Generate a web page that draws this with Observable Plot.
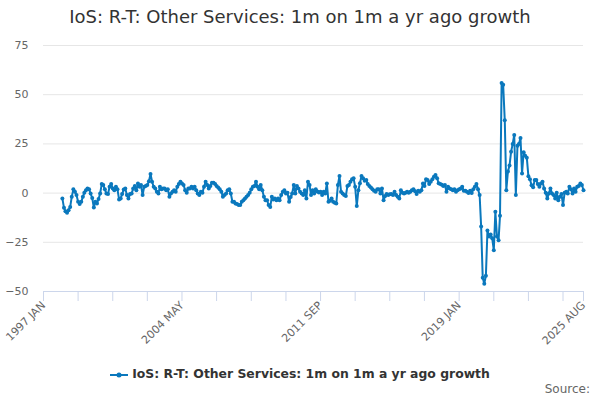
<!DOCTYPE html>
<html><head><meta charset="utf-8">
<script src="https://cdn.jsdelivr.net/npm/d3@7"></script>
<script src="https://cdn.jsdelivr.net/npm/@observablehq/plot@0.6"></script>
<style>
body{margin:0;font-family:"DejaVu Sans",sans-serif;background:#fff;}
#wrap{position:relative;width:600px;height:400px;overflow:hidden}
#title{position:absolute;top:6px;left:0;width:600px;text-align:center;font-size:18px;color:#333}
#chart{position:absolute;top:36px;left:0}
#legend{position:absolute;top:366px;left:0;width:600px;text-align:center;font-size:12.4px;font-weight:bold;color:#333}
#legend svg{vertical-align:middle;margin-right:4px}
#source{position:absolute;top:382px;right:10px;font-size:12px;color:#666}
</style>
</head><body>
<div id="wrap">
<div id="title"></div>
<div id="chart"></div>
<div id="legend"></div>
<div id="source"></div>
</div>
<script>
const titleText = "IoS: R-T: Other Services: 1m on 1m a yr ago growth";
const seriesName = "IoS: R-T: Other Services: 1m on 1m a yr ago growth";
const sourceText = "Source:";
const lineColor = "#0a78bd";

// Monthly values, Jan 1998 – Aug 2025
const y1998 = [-2.7, -7.5, -9.2, -10, -8.7, -7, -1.9, 1.9, 0.7, -1, -4.4, -5.6];
const y1999 = [-4.4, -1.9, 0.2, 1.5, 2.4, 1.9, -0.2, -2.5, -7.3, -4.4, -5.3, -3];
const y2000 = [-0.2, 4.6, 4.1, 1.9, -0.2, -0.5, 3.2, 4.6, 2.4, 1.5, 3.2, 1.9];
const y2001 = [-3.2, -2.7, -0.5, 1.8, 2.4, -1, -2.7, -0.5, -0.2, 2.4, 3.6, 1.5];
const y2002 = [4.9, 3.2, 4.1, -1, 3.2, 3.6, 4.1, 6, 9.7, 5.8, 3.2, 2.4];
const y2003 = [0.7, -0.2, 3.2, 1.9, 2.4, 2.4, 1.5, 1.9, -1.9, -0.2, 0.7, 1.5];
const y2004 = [0.7, 3.2, 4.6, 5.8, 4.9, 4.1, 1.5, 0.2, 2.4, 2.4, 3.2, 2.4];
const y2005 = [3.2, 1.5, -0.2, -1, 0.7, 0.2, 3.2, 5.8, 4.1, 2.4, 3.6, 5.3];
const y2006 = [5.3, 4.6, 3.6, 2.9, 1.9, 0.7, -1.9, -1, -0.2, 1.5, 1.9, -0.2];
const y2007 = [-4.4, -4.4, -5.3, -5.5, -6.1, -6.1, -4.4, -3.6, -2.7, -1.9, -1, 0.2];
const y2008 = [1.9, 3.2, 3.6, 5.8, 3.2, 1.9, 4.1, 1.5, -1.9, -3.6, -3.6, -6.1];
const y2009 = [-7, -1.9, -3.2, -2.7, -3.6, -2.7, -3.6, -1, 0.7, 1.5, -0.2, 0.2];
const y2010 = [-4.4, -2, -0.2, 4.1, -0.2, 3.6, 2.4, 0.7, -0.2, -1, 1.5, -2.7];
const y2011 = [5.8, 4.1, -1, 1.5, -0.2, 1.9, 0.8, 0.3, 0.7, -1, 0.7, -0.2];
const y2012 = [4.9, -4.4, -3.9, -2.7, -4.4, -4.9, -5.3, 4.1, 8.7, 0.7, -0.2, -1];
const y2013 = [-1.5, 3.6, 4.1, 5.8, 7, 7.5, 3.2, -6.6, 1.5, 5, 8.7, 7.5];
const y2014 = [6.3, 6.6, 4.6, 3.6, 2.9, 1.9, 1.2, 0.7, 1.9, 1.9, -0.2, 2.4];
const y2015 = [-3.6, -1.5, -0.5, -1, -0.6, -0.5, -1, 0.7, -1, -1.9, -2.7, 1.5];
const y2016 = [0.2, -0.2, 0.2, 0.7, 0.2, 0.7, 1.5, 1.9, 1, -0.5, 1.2, 0.7];
const y2017 = [1.5, 4.9, 3.6, 7, 6.6, 4.6, 5.8, 7, 8.3, 9.2, 7.5, 5];
const y2018 = [4.6, 4.2, 3.6, 4.1, 0.7, 3.2, 2.4, 1.9, 1.5, 1.9, 0.7, 1.5];
const y2019 = [2, 2.4, 3.2, 1.2, 1.2, 0.7, 0, 1.2, 0, 2, 3.2, 4.6];
const y2020 = [2, -1, -17, -43, -46, -42, -19, -22, -21, -23, -29, -9.5];
const y2021 = [-22, -24, -11.5, 56, 55, 37, 1.5, 11, 14, 21, 25, 29.5];
const y2022 = [-1, 24, 25, 28, 10, 20.8, 19, 18, 8.5, 7, 4, 3];
const y2023 = [6.6, 6.6, 4.6, 3.2, 4.9, 5.8, 2.4, 0.2, -2.7, -0.2, 2.4, -0.2];
const y2024 = [-1, -2.7, 0.2, -3.6, -1.9, -0.5, -6.1, 0.2, 0.7, -0.2, 3.2, 1.9];
const y2025 = [-0.2, 2.4, 0.7, 3.2, 3.6, 4.9, 4.1, 1.5];
const firstYear = 1998;
const yearArrays = [y1998, y1999, y2000, y2001, y2002, y2003, y2004, y2005, y2006, y2007,
  y2008, y2009, y2010, y2011, y2012, y2013, y2014, y2015, y2016, y2017, y2018, y2019,
  y2020, y2021, y2022, y2023, y2024, y2025];

const yTicks = [-50, -25, 0, 25, 50, 75];
const xLabels = ["1997 JAN", "2004 MAY", "2011 SEP", "2019 JAN", "2025 AUG"];
const minorStepMonths = 22;

const MON = ["JAN","FEB","MAR","APR","MAY","JUN","JUL","AUG","SEP","OCT","NOV","DEC"];
const parseLabel = s => { const [y, m] = s.split(" "); return new Date(Date.UTC(+y, MON.indexOf(m), 1)); };
const fmt = d => d.getUTCFullYear() + " " + MON[d.getUTCMonth()];

const data = [];
yearArrays.forEach((arr, i) => arr.forEach((v, j) => data.push({date: new Date(Date.UTC(firstYear + i, j, 1)), value: v})));

const labelDates = xLabels.map(parseLabel);
const xStart = labelDates[0], xEnd = labelDates[labelDates.length - 1];
const tickDates = [];
for (let d = xStart; d < xEnd; d = d3.utcMonth.offset(d, minorStepMonths)) tickDates.push(d);
tickDates.push(xEnd);

const chart = Plot.plot({
  width: 600,
  height: 320,
  marginLeft: 43,
  marginRight: 17,
  marginTop: 9,
  marginBottom: 65,
  style: {fontFamily: "DejaVu Sans, sans-serif", fontSize: "11px", background: "#fff"},
  x: {type: "utc", domain: [xStart, xEnd]},
  y: {domain: [-50, 75]},
  marks: [
    Plot.ruleY(yTicks.slice(1), {stroke: "#e6e6e6"}),
    Plot.ruleY([yTicks[0]], {stroke: "#ccd6eb"}),
    Plot.axisY({ticks: yTicks, tickSize: 0, tickPadding: 15, fill: "#666", fontSize: 11, label: null}),
    Plot.axisX({ticks: tickDates, tickSize: 10, tickFormat: () => "", stroke: "#ccd6eb", label: null}),
    Plot.axisX({ticks: labelDates, tickSize: 0, tickPadding: 12, tickRotate: -45, tickFormat: fmt, fill: "#666", fontSize: 11, label: null}),
    Plot.line(data, {x: "date", y: "value", stroke: lineColor, strokeWidth: 2}),
    Plot.dot(data, {x: "date", y: "value", r: 2, fill: lineColor, stroke: "none"})
  ]
});
document.getElementById("chart").appendChild(chart);
document.getElementById("title").textContent = titleText;
document.getElementById("legend").innerHTML =
  `<svg width="18" height="10"><line x1="0" y1="5" x2="18" y2="5" stroke="${lineColor}" stroke-width="2"/><circle cx="9" cy="5" r="2.5" fill="${lineColor}"/></svg>` +
  `<span></span>`;
document.querySelector("#legend span").textContent = seriesName;
document.getElementById("source").textContent = sourceText;
</script>
</body></html>
